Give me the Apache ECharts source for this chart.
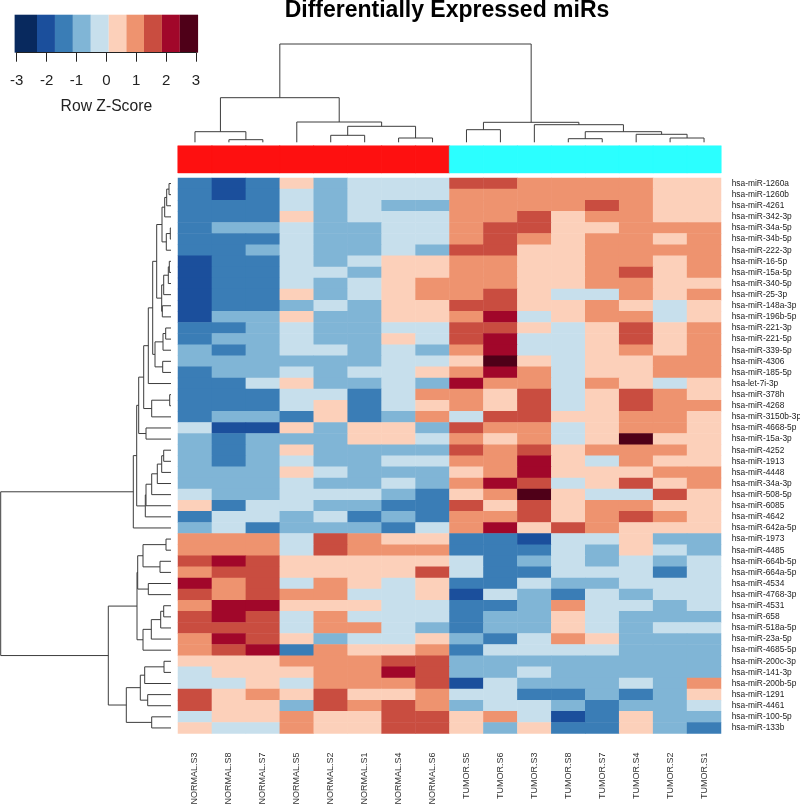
<!DOCTYPE html>
<html style="height: 100%">
<head>
    <meta charset="utf-8">
    <script src="https://cdn.jsdelivr.net/npm/echarts@6/dist/echarts.min.js"></script>
</head>
<body style="height: 100%; margin: 0; background: #fff">
<div id="container" style="width: 800px; height: 805px"></div>
<script type="text/javascript">
    var samples = ['NORMAL.S3','NORMAL.S8','NORMAL.S7','NORMAL.S5','NORMAL.S2','NORMAL.S1','NORMAL.S4','NORMAL.S6',
        'TUMOR.S5','TUMOR.S6','TUMOR.S3','TUMOR.S8','TUMOR.S7','TUMOR.S4','TUMOR.S2','TUMOR.S1'];
    var sampleGroups = [0,0,0,0,0,0,0,0,1,1,1,1,1,1,1,1];
    var groupColors = ['#fe1010', '#2bffff'];
    var mirs = ['hsa-miR-1260a','hsa-miR-1260b','hsa-miR-4261','hsa-miR-342-3p','hsa-miR-34a-5p','hsa-miR-34b-5p','hsa-miR-222-3p',
        'hsa-miR-16-5p','hsa-miR-15a-5p','hsa-miR-340-5p','hsa-miR-25-3p','hsa-miR-148a-3p','hsa-miR-196b-5p','hsa-miR-221-3p',
        'hsa-miR-221-5p','hsa-miR-339-5p','hsa-miR-4306','hsa-miR-185-5p','hsa-let-7i-3p','hsa-miR-378h','hsa-miR-4268',
        'hsa-miR-3150b-3p','hsa-miR-4668-5p','hsa-miR-15a-3p','hsa-miR-4252','hsa-miR-1913','hsa-miR-4448','hsa-miR-34a-3p',
        'hsa-miR-508-5p','hsa-miR-6085','hsa-miR-4642','hsa-miR-642a-5p','hsa-miR-1973','hsa-miR-4485','hsa-miR-664b-5p',
        'hsa-miR-664a-5p','hsa-miR-4534','hsa-miR-4768-3p','hsa-miR-4531','hsa-miR-658','hsa-miR-518a-5p','hsa-miR-23a-5p',
        'hsa-miR-4685-5p','hsa-miR-200c-3p','hsa-miR-141-3p','hsa-miR-200b-5p','hsa-miR-1291','hsa-miR-4461','hsa-miR-100-5p','hsa-miR-133b'];

    // row z-scores (one row per miR, same order as samples)
    var zScores = [
        [-1.4,-2,-1.4,.4,-.8,-.2,-.2,-.2, 1.6,1.6,1,1,1,1,.4,.4],
        [-1.4,-2,-1.4,-.2,-.8,-.2,-.2,-.2, 1,1,1,1,1,1,.4,.4],
        [-1.4,-1.4,-1.4,-.2,-.8,-.2,-.8,-.8, 1,1,1,1,1.6,1,.4,.4],
        [-1.4,-1.4,-1.4,.4,-.8,-.2,-.2,-.2, 1,1,1.6,.4,1,1,.4,.4],
        [-1.4,-.8,-.8,-.2,-.8,-.8,-.2,-.2, 1,1.6,1.6,.4,.4,1,1,1],
        [-1.4,-1.4,-1.4,-.2,-.8,-.8,-.2,-.2, 1,1.6,1,.4,1,1,.4,1],
        [-1.4,-1.4,-.8,-.2,-.8,-.8,-.2,-.8, 1.6,1.6,.4,.4,1,1,1,1],
        [-2,-1.4,-1.4,-.2,-.8,-.2,.4,.4, 1,1,.4,.4,1,1,.4,1],
        [-2,-1.4,-1.4,-.2,-.2,-.8,.4,.4, 1,1,.4,.4,1,1.6,.4,1],
        [-2,-1.4,-1.4,-.2,-.8,-.2,.4,1, 1,1,.4,.4,1,1,.4,.4],
        [-2,-1.4,-1.4,.4,-.8,-.2,.4,1, 1,1.6,.4,-.2,-.2,1,.4,1],
        [-2,-1.4,-1.4,-.8,-.2,-.8,.4,.4, 1.6,1.6,.4,.4,1,.4,-.2,.4],
        [-2,-.8,-.8,.4,-.8,-.8,.4,.4, 1,2.2,-.2,.4,1,1,-.2,.4],
        [-1.4,-1.4,-.8,-.2,-.8,-.8,-.2,-.2, 1.6,1.6,.4,-.2,.4,1.6,.4,1],
        [-1.4,-.8,-.8,-.2,-.8,-.8,.4,-.2, 1.6,2.2,-.2,-.2,.4,1.6,.4,1],
        [-.8,-1.4,-.8,-.2,-.2,-.8,-.2,-.8, 1,2.2,-.2,-.2,.4,1,.4,1],
        [-.8,-.8,-.8,-.8,-.8,-.8,-.2,-.2, .4,2.8,.4,-.2,.4,.4,1,1],
        [-1.4,-.8,-.8,-.2,-.8,-.2,-.2,.4, 1,2.2,1,-.2,.4,.4,1,1],
        [-1.4,-1.4,-.2,.4,-.8,-.8,-.2,-.8, 2.2,1,1,-.2,1,.4,-.2,.4],
        [-1.4,-1.4,-1.4,-.2,-.2,-1.4,-.2,1, 1,.4,1.6,-.2,.4,1.6,1,.4],
        [-1.4,-1.4,-1.4,-.2,.4,-1.4,-.2,.4, 1,.4,1.6,-.2,.4,1.6,1,1],
        [-1.4,-.8,-.8,-1.4,.4,-1.4,-.8,1, -.2,1.6,1.6,.4,.4,1,1,.4],
        [-.2,-2,-2,.4,-.8,.4,.4,-.8, 1.6,1,1,-.2,.4,1,1,.4],
        [-.8,-1.4,-.8,-.8,-.8,.4,.4,-.2, 1,.4,1,-.2,.4,2.8,.4,.4],
        [-.8,-1.4,-.8,.4,-.8,-.8,-.8,-.8, 1.6,1,1.6,.4,1,1,1,.4],
        [-.8,-1.4,-.8,-.2,-.8,-.8,-.2,-.2, 1,1,2.2,.4,-.2,1,.4,.4],
        [-.8,-.8,-.8,.4,-.2,-.8,-.8,-.8, .4,1,2.2,.4,.4,.4,1,1],
        [-.8,-.8,-.8,-.2,-.8,-.8,-.2,-.8, 1,2.2,1.6,-.2,.4,1.6,.4,1],
        [-.2,-.8,-.8,-.2,-.2,-.2,-.8,-1.4, .4,1,2.8,.4,-.2,-.2,1.6,.4],
        [.4,-1.4,-.2,-.2,-.8,-.8,-1.4,-1.4, 1.6,.4,1.6,.4,1,1,.4,.4],
        [-1.4,-.2,-.2,-.8,-.2,-1.4,-.8,-1.4, 1,1,1.6,.4,1,1.6,1,.4],
        [-.8,-.2,-1.4,-.8,-.8,-.8,-1.4,-.2, 1,2.2,.4,1.6,1,.4,.4,.4],
        [1,1,1,-.2,1.6,1,.4,.4, -1.4,-1.4,-2,-.2,-.2,.4,-.8,-.8],
        [1,1,1,-.2,1.6,1,1,1, -1.4,-1.4,-1.4,-.2,-.8,.4,-.2,-.8],
        [1.6,2.2,1.6,.4,.4,.4,.4,.4, -.2,-1.4,-.8,-.2,-.8,-.2,-.8,-.2],
        [1,1.6,1.6,.4,.4,.4,.4,1.6, -.2,-1.4,-1.4,-.2,-.2,-.2,-1.4,-.2],
        [2.2,1,1.6,-.2,1,.4,-.2,.4, -1.4,-1.4,-.2,-.8,-.8,-.2,-.2,-.2],
        [1.6,1,1.6,1,1,-.2,-.2,.4, -2,-.2,-.8,-1.4,-.2,-.8,-.2,-.2],
        [1,2.2,2.2,.4,.4,.4,-.2,-.2, -1.4,-1.4,-.8,1,-.2,-.2,-.8,-.2],
        [1.6,2.2,1.6,-.2,1,-.2,-.2,-.2, -1.4,-.8,-.8,.4,-.2,-.8,-.8,-.8],
        [1.6,1.6,1.6,-.2,1,1,-.2,-.8, -1.4,-.8,-.8,.4,-.2,-.8,-.2,-.2],
        [1,2.2,1.6,.4,-.8,-.2,-.2,.4, -.8,-1.4,-.2,1,.4,-.8,-.8,-.8],
        [1,1.6,2.2,-1.4,1,.4,.4,1, -1.4,-.2,-.2,-.2,-.2,-.8,-.8,-.8],
        [.4,.4,.4,1,1,1,1.6,1.6, -.8,-.8,-.8,-.8,-.8,-.8,-.8,-.8],
        [-.2,.4,.4,.4,1,1,2.2,1.6, -.8,-.8,-.2,-.8,-.8,-.8,-.8,-.8],
        [-.2,-.2,.4,-.2,1,1,1,1.6, -2,-.2,-.8,-.8,-.8,-.2,-.8,1],
        [1.6,.4,1,.4,1.6,.4,.4,1, -.2,-.2,-1.4,-1.4,-.8,-1.4,-.8,.4],
        [1.6,.4,.4,-.8,1.6,1,1.6,1, -.8,-.2,-.2,-.8,-1.4,-.8,-.8,-.2],
        [-.2,.4,.4,1,.4,.4,1.6,1.6, .4,1,-.2,-2,-1.4,.4,-.8,-.8],
        [.4,-.2,-.2,1,.4,.4,1.6,1.6, .4,-.8,.4,-1.4,-1.4,.4,-.8,-1.4]
    ];

    // colour key
    var keyBreaks = [-3.07,-2.32,-1.72,-1.12,-.52,.08,.67,1.26,1.86,2.46,3.07];
    var keyColors = ['#08295e','#1b4f9c','#3a7db6','#80b5d6','#c7dfec','#fcd0ba','#ee936f','#c94d40','#a1072a','#4f0018'];

    // dendrograms: [merge height, left, right], a plain number is a leaf index
    var colTree = [98.3,
        [44.6, [10.6, 0, [2.6, 1, 2]], [20.3, 3, [16, [7, 4, 5], [4.3, 6, 7]]]],
        [20, [12.6, 8, 9], [17.6, 10, [10.6, [3.6, 11, 12], [8, 13, [4.3, 14, 15]]]]]];
    var rowTree = [170.3,
        [37.7,
            [34.3,
                [32.3,
                    [27.3,
                        [22.7,
                            [18.3,
                                [14.3,
                                    [9, [6.3, [4.3, [2, 0, 1], 2], 3], [4.7, [.7, 4, 5], 6]],
                                    [9.3, [7.3, [2.7, [1.7, 7, 8], 9], 10], [8.7, 11, 12]]],
                                [16, [8, [5.3, 13, 14], 15], [8.3, 16, 17]]],
                            18],
                        [19.3, [1.3, 19, 20], 21]],
                    [25, 22, 23]],
                [25.7, [25, [19.3, [13.7, [9.3, [7.3, 24, 25], 26], 27], 28], 29], 30]],
            31],
        [62.7,
            [34,
                [33.3, [28, [5, 32, 33], [11, 34, 35]], [22.7, 36, 37]],
                [28, [19.7, [10.3, [7.3, 38, 39], 40], 41], 42]],
            [44.7,
                [30.7, [26.3, [7, 43, 44], 45], [23.3, 46, 47]],
                [19.3, 48, 49]]]];

    // flatten a tree to [posA, heightA, posB, heightB, mergeHeight] items
    function flatten(node, out) {
        if (typeof node === 'number') return {pos: node + .5, h: 0};
        var a = flatten(node[1], out), b = flatten(node[2], out);
        out.push([a.pos, a.h, b.pos, b.h, node[0]]);
        return {pos: (a.pos + b.pos) / 2, h: node[0]};
    }
    function dendro(horizontal) {
        return function (params, api) {
            var pt = function (pos, h) {
                return api.coord(horizontal ? [h, pos] : [pos, h]);
            };
            var p = [pt(api.value(0), api.value(1)), pt(api.value(0), api.value(4)),
                pt(api.value(2), api.value(4)), pt(api.value(2), api.value(3))];
            return {type: 'polyline', shape: {points: p}, style: {stroke: '#3c3c3c', lineWidth: 1, fill: null}};
        };
    }

    var cells = [];
    zScores.forEach(function (row, r) {
        row.forEach(function (z, c) { cells.push([c, r, z]); });
    });
    var groupCells = sampleGroups.map(function (g, c) {
        return {value: [c, 0, g], itemStyle: {color: groupColors[g], borderColor: groupColors[g], borderWidth: .5}};
    });
    var pieces = keyColors.map(function (col, i) {
        return {gte: keyBreaks[i], lt: keyBreaks[i + 1], color: col};
    });
    var keyData = keyColors.map(function (col, i) {
        return {value: [keyBreaks[i], keyBreaks[i + 1]], itemStyle: {color: col}};
    });
    var colLinks = [], rowLinks = [];
    flatten(colTree, colLinks);
    flatten(rowTree, rowLinks);

    var heatLeft = 178, heatWidth = 543, heatTop = 178, heatHeight = 555.5;
    var font = '"Liberation Sans", Arial, sans-serif';

    var myChart = echarts.init(document.getElementById('container'), null, {renderer: 'canvas'});
    var option = {
        animation: false,
        backgroundColor: '#fff',
        title: {
            text: 'Differentially Expressed miRs',
            left: 442, top: -6, textAlign: 'center',
            textStyle: {fontFamily: font, fontWeight: 'bold', fontSize: 23, color: '#000'}
        },
        visualMap: {show: false, type: 'piecewise', seriesIndex: 0, dimension: 2, pieces: pieces},
        grid: [
            {left: heatLeft, top: heatTop, width: heatWidth, height: heatHeight, outerBoundsMode: 'none'},
            {left: heatLeft, top: 146, width: heatWidth, height: 26.7, outerBoundsMode: 'none'},
            {left: heatLeft, top: 44, width: heatWidth, height: 98.3, outerBoundsMode: 'none'},
            {left: .7, top: heatTop, width: 170.3, height: heatHeight, outerBoundsMode: 'none'},
            {left: 16.7, top: 14.7, width: 179.3, height: 38, outerBoundsMode: 'none'}
        ],
        xAxis: [
            {gridIndex: 0, type: 'category', data: samples, axisLine: {show: false}, axisTick: {show: false},
                axisLabel: {interval: 0, rotate: 90, margin: 19, fontSize: 9, color: '#333', fontFamily: font}},
            {gridIndex: 1, type: 'category', data: samples, show: false},
            {gridIndex: 2, type: 'value', min: 0, max: 16, show: false},
            {gridIndex: 3, type: 'value', min: 0, max: 170.3, inverse: true, show: false},
            {gridIndex: 4, type: 'value', min: -3, max: 3, interval: 1, position: 'bottom', z: 5,
                splitLine: {show: false},
                axisLine: {show: true, lineStyle: {color: '#222', width: 1}},
                axisTick: {show: true, length: 9, lineStyle: {color: '#222', width: 1}},
                axisLabel: {margin: 21, fontSize: 15, color: '#222', fontFamily: font},
                name: 'Row Z-Score', nameLocation: 'middle', nameGap: 46,
                nameTextStyle: {fontSize: 15.7, color: '#222', fontFamily: font}}
        ],
        yAxis: [
            {gridIndex: 0, type: 'category', data: mirs, inverse: true, position: 'right',
                axisLine: {show: false}, axisTick: {show: false},
                axisLabel: {interval: 0, margin: 10.7, fontSize: 8.4, color: '#222', fontFamily: font}},
            {gridIndex: 1, type: 'category', data: ['group'], show: false},
            {gridIndex: 2, type: 'value', min: 0, max: 98.3, show: false},
            {gridIndex: 3, type: 'value', min: 0, max: 50, inverse: true, show: false},
            {gridIndex: 4, type: 'value', min: 0, max: 1, show: false}
        ],
        series: [
            {type: 'heatmap', xAxisIndex: 0, yAxisIndex: 0, data: cells, emphasis: {disabled: true}},
            {type: 'heatmap', xAxisIndex: 1, yAxisIndex: 1, data: groupCells, emphasis: {disabled: true}},
            {type: 'custom', xAxisIndex: 2, yAxisIndex: 2, data: colLinks, renderItem: dendro(false)},
            {type: 'custom', xAxisIndex: 3, yAxisIndex: 3, data: rowLinks, renderItem: dendro(true)},
            {type: 'custom', xAxisIndex: 4, yAxisIndex: 4, data: keyData,
                encode: {x: [0, 1]},
                renderItem: function (params, api) {
                    var a = api.coord([api.value(0), 1]), b = api.coord([api.value(1), 0]);
                    return {type: 'rect', shape: {x: a[0], y: a[1], width: b[0] - a[0], height: b[1] - a[1]},
                        style: {fill: api.visual('color')}};
                }}
        ]
    };
    myChart.setOption(option);
</script>
</body>
</html>
